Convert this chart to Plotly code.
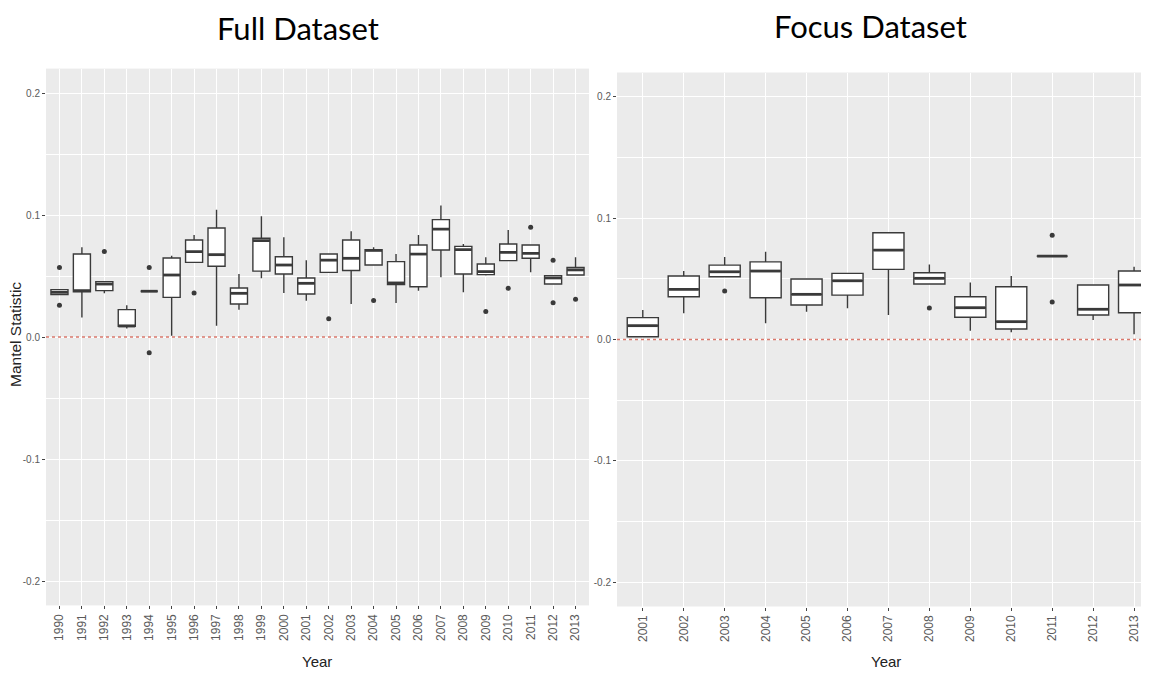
import plotly.graph_objects as go

# ---- Full dataset (1990-2013): box stats
full_years = [str(y) for y in range(1990, 2014)]
full_lo = [0.0347, 0.016, 0.0358, 0.007, 0.0375, 0.001, 0.0612, 0.0093, 0.0224, 0.0481, 0.036, 0.0298,
           0.053, 0.027, 0.059, 0.0279, 0.038, 0.0489, 0.0366, 0.0505, 0.0626, 0.053, 0.0434, 0.0508]
full_q1 = [0.0347, 0.037, 0.038, 0.0087, 0.0375, 0.0325, 0.0612, 0.058, 0.027, 0.054, 0.0516, 0.0352,
           0.053, 0.0545, 0.059, 0.043, 0.0412, 0.0713, 0.0516, 0.0511, 0.0626, 0.0645, 0.0434, 0.0508]
full_med = [0.0366, 0.038, 0.0434, 0.009, 0.0375, 0.0508, 0.070, 0.0675, 0.0358, 0.079, 0.059, 0.044,
            0.063, 0.0645, 0.071, 0.0443, 0.068, 0.0885, 0.0716, 0.0536, 0.0694, 0.0686, 0.0484, 0.055]
full_q3 = [0.0388, 0.068, 0.0454, 0.0224, 0.0375, 0.0648, 0.0795, 0.0893, 0.0402, 0.0809, 0.0658, 0.0484,
           0.068, 0.0795, 0.0716, 0.0618, 0.0754, 0.0962, 0.0743, 0.0598, 0.0762, 0.0754, 0.0503, 0.057]
full_hi = [0.0388, 0.0735, 0.0454, 0.026, 0.0375, 0.0667, 0.0836, 0.1044, 0.0516, 0.099, 0.0817, 0.063,
           0.068, 0.0866, 0.0735, 0.068, 0.0836, 0.1077, 0.0762, 0.0653, 0.0877, 0.0754, 0.0503, 0.0653]
full_out_x = ["1990", "1990", "1992", "1994", "1994", "1996", "2002", "2004", "2009", "2010",
              "2011", "2012", "2012", "2013"]
full_out_y = [0.057, 0.026, 0.070, 0.057, -0.013, 0.036, 0.015, 0.030, 0.021, 0.040,
              0.090, 0.063, 0.028, 0.031]

# ---- Focus dataset (2001-2013)
focus_years = [str(y) for y in range(2001, 2014)]
focus_lo = [0.0023, 0.0216, 0.0517, 0.0133, 0.0229, 0.0257, 0.0202, 0.0457, 0.0072, 0.0059, 0.0687, 0.016, 0.0043]
focus_q1 = [0.0023, 0.0352, 0.0517, 0.0344, 0.0284, 0.0366, 0.0578, 0.0457, 0.0183, 0.0086, 0.0687, 0.0202, 0.0221]
focus_med = [0.0114, 0.0413, 0.0558, 0.0564, 0.0372, 0.0484, 0.0737, 0.0504, 0.0262, 0.0147, 0.0687, 0.0249, 0.0449]
focus_q3 = [0.018, 0.0523, 0.0613, 0.064, 0.0498, 0.0545, 0.0879, 0.055, 0.0352, 0.0435, 0.0687, 0.0449, 0.0564]
focus_hi = [0.0243, 0.0564, 0.068, 0.0723, 0.0498, 0.0545, 0.0879, 0.0619, 0.047, 0.0523, 0.0687, 0.0449, 0.06]
focus_out_x = ["2003", "2008", "2011", "2011"]
focus_out_y = [0.040, 0.026, 0.086, 0.031]

y_ticks = [-0.2, -0.1, 0.0, 0.1, 0.2]
y_minor = [-0.15, -0.05, 0.05, 0.15]

W, H = 1149, 673
OFF = 8  # the page body keeps its default 8px margin
LINE = "#3a3a3a"
GRID = "white"
SANS = "Liberation Sans"


def px(x):   # page pixel -> paper x
    return (x - OFF) / W


def py(y):   # page pixel -> paper y
    return 1 - (y - OFF) / H


fig = go.Figure()


def add_panel(xa, ya, years, lo, q1, med, q3, hi, ox, oy, med_px):
    fig.add_trace(go.Box(x=years, q1=q1, median=med, q3=q3, lowerfence=lo, upperfence=hi,
                         boxpoints=False, width=0.76, whiskerwidth=0,
                         fillcolor="white", line=dict(color=LINE, width=1.4),
                         xaxis=xa, yaxis=ya, showlegend=False, hoverinfo="skip"))
    # thicker median bar, like ggplot's fatten
    fig.add_trace(go.Scatter(x=years, y=med, mode="markers", xaxis=xa, yaxis=ya,
                             marker=dict(symbol="line-ew-open", size=med_px, color=LINE,
                                         line=dict(color=LINE, width=2.8)),
                             showlegend=False, hoverinfo="skip"))
    fig.add_trace(go.Scatter(x=ox, y=oy, mode="markers", xaxis=xa, yaxis=ya,
                             marker=dict(color=LINE, size=5),
                             showlegend=False, hoverinfo="skip"))


add_panel("x", "y", full_years, full_lo, full_q1, full_med, full_q3, full_hi,
          full_out_x, full_out_y, 12)
add_panel("x2", "y2", focus_years, focus_lo, focus_q1, focus_med, focus_q3, focus_hi,
          focus_out_x, focus_out_y, 21.5)

xcommon = dict(type="category", showgrid=True, gridcolor=GRID, gridwidth=1.1,
               tickangle=-90, tickfont=dict(size=12, color="#5a5a5a", family=SANS),
               ticks="outside", ticklen=3, tickcolor="#444", zeroline=False,
               showline=False, automargin=False, fixedrange=True)
ycommon = dict(range=[-0.22, 0.22], tickvals=y_ticks, ticktext=[f"{v:.1f}" for v in y_ticks],
               showgrid=True, gridcolor=GRID, gridwidth=1.1, zeroline=False,
               minor=dict(tickvals=y_minor, showgrid=True, gridcolor=GRID, gridwidth=0.5),
               tickfont=dict(size=10, color="#5a5a5a", family=SANS),
               ticks="outside", ticklen=3, tickcolor="#444", automargin=False)

zero_line = dict(color="#d9786c", width=1.6, dash="dot")


def label(text, x, y, size, family, color="black", angle=0):
    return dict(text=text, x=px(x), y=py(y), xref="paper", yref="paper",
                xanchor="center", yanchor="middle", showarrow=False, textangle=angle,
                font=dict(family=family, size=size, color=color))


fig.update_layout(
    width=W, height=H, margin=dict(l=0, r=0, t=0, b=0),
    paper_bgcolor="white", plot_bgcolor="#EBEBEB",
    xaxis=dict(domain=[px(46), px(589)], anchor="y", range=[-0.6, 23.6], **xcommon),
    yaxis=dict(domain=[py(605.4), py(68.6)], anchor="x", **ycommon),
    xaxis2=dict(domain=[px(617), 1.0], anchor="y2", range=[-0.63, 12.56], **xcommon),
    yaxis2=dict(domain=[py(606.5), py(72.5)], anchor="x2", **ycommon),
    shapes=[
        dict(type="line", xref="x domain", yref="y", x0=0, x1=1, y0=0, y1=0, line=zero_line),
        dict(type="line", xref="x2 domain", yref="y2", x0=0, x1=1, y0=0, y1=0, line=zero_line),
    ],
    annotations=[
        label("Full Dataset", 298, 28, 31, "Lato"),
        label("Focus Dataset", 870, 26, 31, "Lato"),
        label("Year", 317, 661, 15, "Liberation Sans Narrow, Liberation Sans", "#222"),
        label("Year", 886, 661, 15, "Liberation Sans Narrow, Liberation Sans", "#222"),
        label("Mantel Statistic", 15, 335, 15.5, SANS, "#222", -90),
    ],
)

fig.write_html("out.html")
